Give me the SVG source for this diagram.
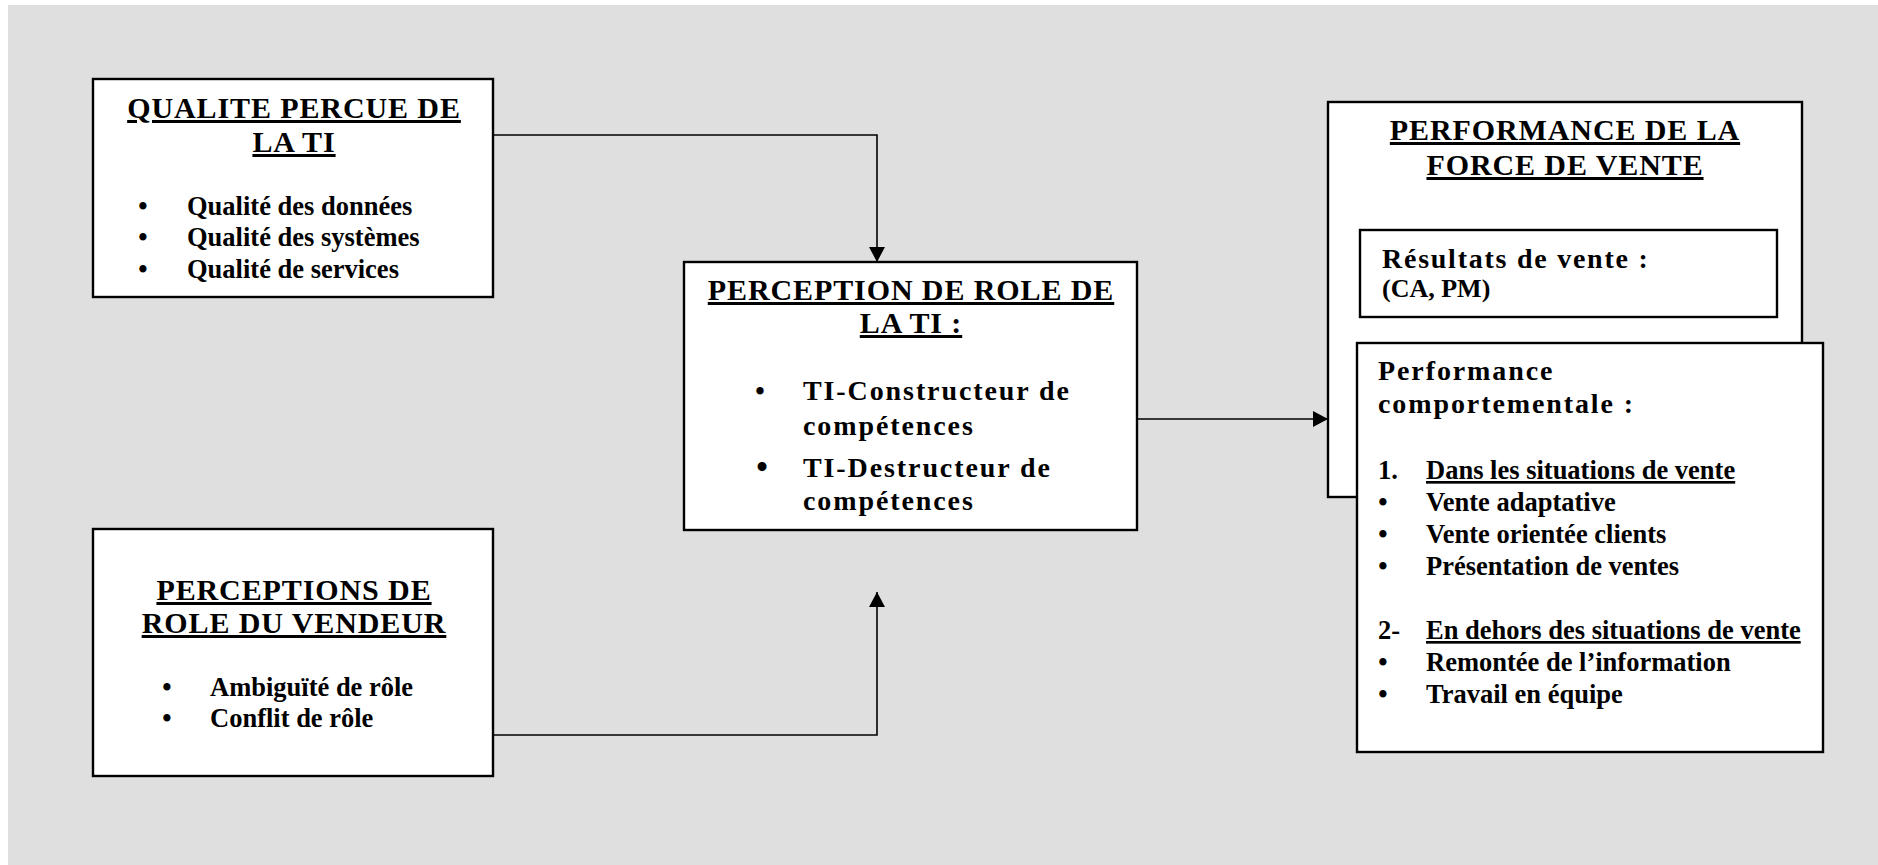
<svg xmlns="http://www.w3.org/2000/svg" width="1878" height="865" viewBox="0 0 1878 865">
<defs>
<style>
.box{fill:#ffffff;stroke:#000000;stroke-width:2.4}
.t{font-family:"Liberation Serif","Times New Roman",serif;font-weight:bold;fill:#000000}
.title{font-size:30px;letter-spacing:0.9px;text-decoration:underline;text-anchor:middle}
.item{font-size:26.5px}
.wide{font-size:28px;letter-spacing:1.9px}
.bul{font-size:26.5px;text-anchor:middle}
.ul{text-decoration:underline}
.conn{fill:none;stroke:#000000;stroke-width:1.6}
</style>
<marker id="arr" viewBox="0 0 15 16" refX="15" refY="8" markerWidth="15" markerHeight="16" markerUnits="userSpaceOnUse" orient="auto">
<path d="M0,0 L15,8 L0,16 z" fill="#000000"/>
</marker>
</defs>
<rect x="0" y="0" width="1878" height="865" fill="#ffffff"/>
<rect x="8" y="5" width="1870" height="860" fill="#dfdfdf"/>

<g id="connectors">
<path class="conn" d="M494,135 H877 V262" marker-end="url(#arr)"/>
<path class="conn" d="M494,735 H877 V592" marker-end="url(#arr)"/>
<path class="conn" d="M1137,419 H1328" marker-end="url(#arr)"/>
</g>

<g id="qualite-percue">
<rect class="box" x="93" y="79" width="400" height="218"/>
<text class="t title" x="294" y="118">QUALITE PERCUE DE</text>
<text class="t title" x="294" y="152">LA TI</text>
<text class="t bul" x="143" y="215">•</text>
<text class="t bul" x="143" y="246">•</text>
<text class="t bul" x="143" y="278">•</text>
<text class="t item" x="187" y="215">Qualité des données</text>
<text class="t item" x="187" y="246">Qualité des systèmes</text>
<text class="t item" x="187" y="278">Qualité de services</text>
</g>

<g id="perceptions-vendeur">
<rect class="box" x="93" y="529" width="400" height="247"/>
<text class="t title" x="294" y="600">PERCEPTIONS DE</text>
<text class="t title" x="294" y="633">ROLE DU VENDEUR</text>
<text class="t bul" x="167" y="696">•</text>
<text class="t bul" x="167" y="727">•</text>
<text class="t item" x="210" y="696">Ambiguïté de rôle</text>
<text class="t item" x="210" y="727">Conflit de rôle</text>
</g>

<g id="perception-role-ti">
<rect class="box" x="684" y="262" width="453" height="268"/>
<text class="t title" x="911" y="300">PERCEPTION DE ROLE DE</text>
<text class="t title" x="911" y="333">LA TI :</text>
<text class="t bul" x="760" y="400" style="font-size:27px">•</text>
<text class="t bul" x="762" y="478" style="font-size:33px">•</text>
<text class="t wide" x="803" y="400">TI-Constructeur de</text>
<text class="t wide" x="803" y="435">compétences</text>
<text class="t wide" x="803" y="477">TI-Destructeur de</text>
<text class="t wide" x="803" y="510">compétences</text>
</g>

<g id="performance-force-vente">
<rect class="box" x="1328" y="102" width="474" height="395"/>
<text class="t title" x="1565" y="140">PERFORMANCE DE LA</text>
<text class="t title" x="1565" y="175">FORCE DE VENTE</text>
</g>

<g id="resultats-vente">
<rect class="box" x="1360" y="230" width="417" height="87"/>
<text class="t" x="1382" y="268" style="font-size:28px;letter-spacing:1.75px">Résultats de vente :</text>
<text class="t" x="1382" y="297" style="font-size:26px">(CA, PM)</text>
</g>

<g id="performance-comportementale">
<rect class="box" x="1357" y="343" width="466" height="409"/>
<text class="t wide" x="1378" y="380">Performance</text>
<text class="t wide" x="1378" y="413">comportementale :</text>
<text class="t item" x="1378" y="479">1.</text>
<text class="t item ul" x="1426" y="479">Dans les situations de vente</text>
<text class="t bul" x="1383" y="511">•</text>
<text class="t bul" x="1383" y="543">•</text>
<text class="t bul" x="1383" y="575">•</text>
<text class="t item" x="1426" y="511">Vente adaptative</text>
<text class="t item" x="1426" y="543">Vente orientée clients</text>
<text class="t item" x="1426" y="575">Présentation de ventes</text>
<text class="t item" x="1378" y="639">2-</text>
<text class="t item ul" x="1426" y="639">En dehors des situations de vente</text>
<text class="t bul" x="1383" y="671">•</text>
<text class="t bul" x="1383" y="703">•</text>
<text class="t item" x="1426" y="671">Remontée de l’information</text>
<text class="t item" x="1426" y="703">Travail en équipe</text>
</g>
</svg>
